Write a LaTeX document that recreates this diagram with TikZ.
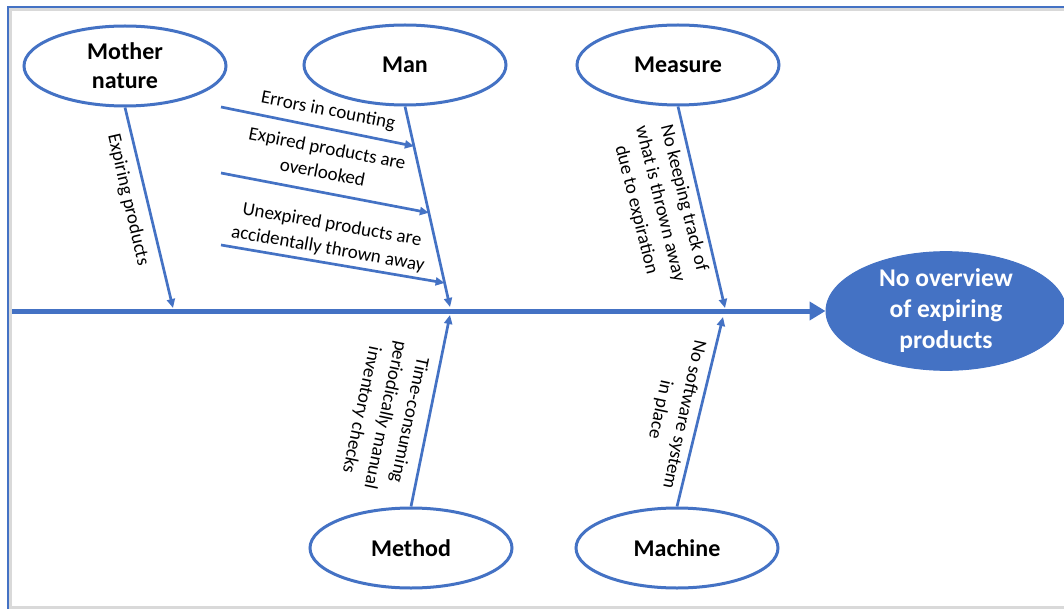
\documentclass[tikz,border=0pt]{standalone}
\usepackage{fontspec}
\setmainfont{Carlito}
\usetikzlibrary{shapes.geometric,arrows.meta,calc}
\definecolor{obl}{HTML}{4472C4}
\definecolor{frm}{HTML}{D9D9D9}
\begin{document}
\begin{tikzpicture}[x=1pt,y=-1pt,
  cat/.style={ellipse,draw=obl,line width=3pt,fill=white,minimum width=202pt,minimum height=80pt,inner sep=0pt,align=center,font=\fontsize{24}{29}\selectfont\bfseries},
  effect/.style={ellipse,draw=obl,fill=obl,line width=1pt,minimum width=240pt,minimum height=116pt,inner sep=0pt,align=center,text=white,font=\fontsize{25.5}{31}\selectfont\bfseries},
  bone/.style={draw=obl,line width=2.7pt,-{Triangle[length=9pt,width=8pt]}},
  spine/.style={draw=obl,line width=5pt,-{Triangle[length=16pt,width=18pt]}},
  lbl/.style={align=center,inner sep=0pt,font=\fontsize{19}{24.5}\selectfont}
]
\useasboundingbox (0,0) rectangle (1064,609);
% frame
\draw[frm,line width=3pt] (10.5,609) -- (10.5,10) -- (1064,10);
\draw[frm,line width=3pt] (10.5,607.5) -- (1064,607.5);
\draw[obl,line width=2pt] (8,609) -- (8,6.7) -- (1064,6.7);

% nodes
\node[cat] (mother) at (125,66) {Mother\\nature};
\node[cat] (man) at (405,65) {Man};
\node[cat] (measure) at (678,65) {Measure};
\node[cat] (method) at (411,548) {Method};
\node[cat] (machine) at (677,548) {Machine};
\node[effect] (effect) at (946,311) {No overview\\of expiring\\products};

% spine
\coordinate (tail) at (12,311);
\draw[spine] (tail) -- (effect.west);

% spine coordinates
\coordinate (m1) at (173,308);
\coordinate (m2) at (450,307);
\coordinate (m3) at (725,308);
\coordinate (m4) at (450,315);
\coordinate (m5) at (723,317);

% main bones
\draw[bone] (mother.south) -- (m1);
\draw[bone] (man.south) -- (m2);
\draw[bone] (measure.south) -- (m3);
\draw[bone] (method.north) -- (m4);
\draw[bone] (machine.north) -- (m5);

% sub-bones into Man
\coordinate (b1s) at (221,107);
\coordinate (b2s) at (221,173);
\coordinate (b3s) at (221,245);
\coordinate (b1e) at ($(man.south)!0.198!(m2)$);
\coordinate (b2e) at ($(man.south)!0.53!(m2)$);
\coordinate (b3e) at ($(man.south)!0.88!(m2)$);
\draw[bone] (b1s) -- (b1e);
\draw[bone] (b2s) -- (b2e);
\draw[bone] (b3s) -- (b3e);

% labels
\node[lbl,rotate=-11] (t1) at (328,111) {Errors in counting};
\node[lbl,rotate=-11] (t2) at (325,160) {Expired products are\\overlooked};
\node[lbl,rotate=-10] (t3) at (330,237) {Unexpired products are\\accidentally thrown away};
\node[lbl,rotate=-77] (t4) at (128,200) {Expiring products};
\node[lbl,rotate=-76] (t5) at (660,204) {No keeping track of\\what is thrown away\\due to expiration};
\node[lbl,rotate=-102] (t6) at (385,415) {Time-consuming\\periodically manual\\inventory checks};
\node[lbl,rotate=-102] (t7) at (672,412) {No software system\\in place};
\end{tikzpicture}
\end{document}
